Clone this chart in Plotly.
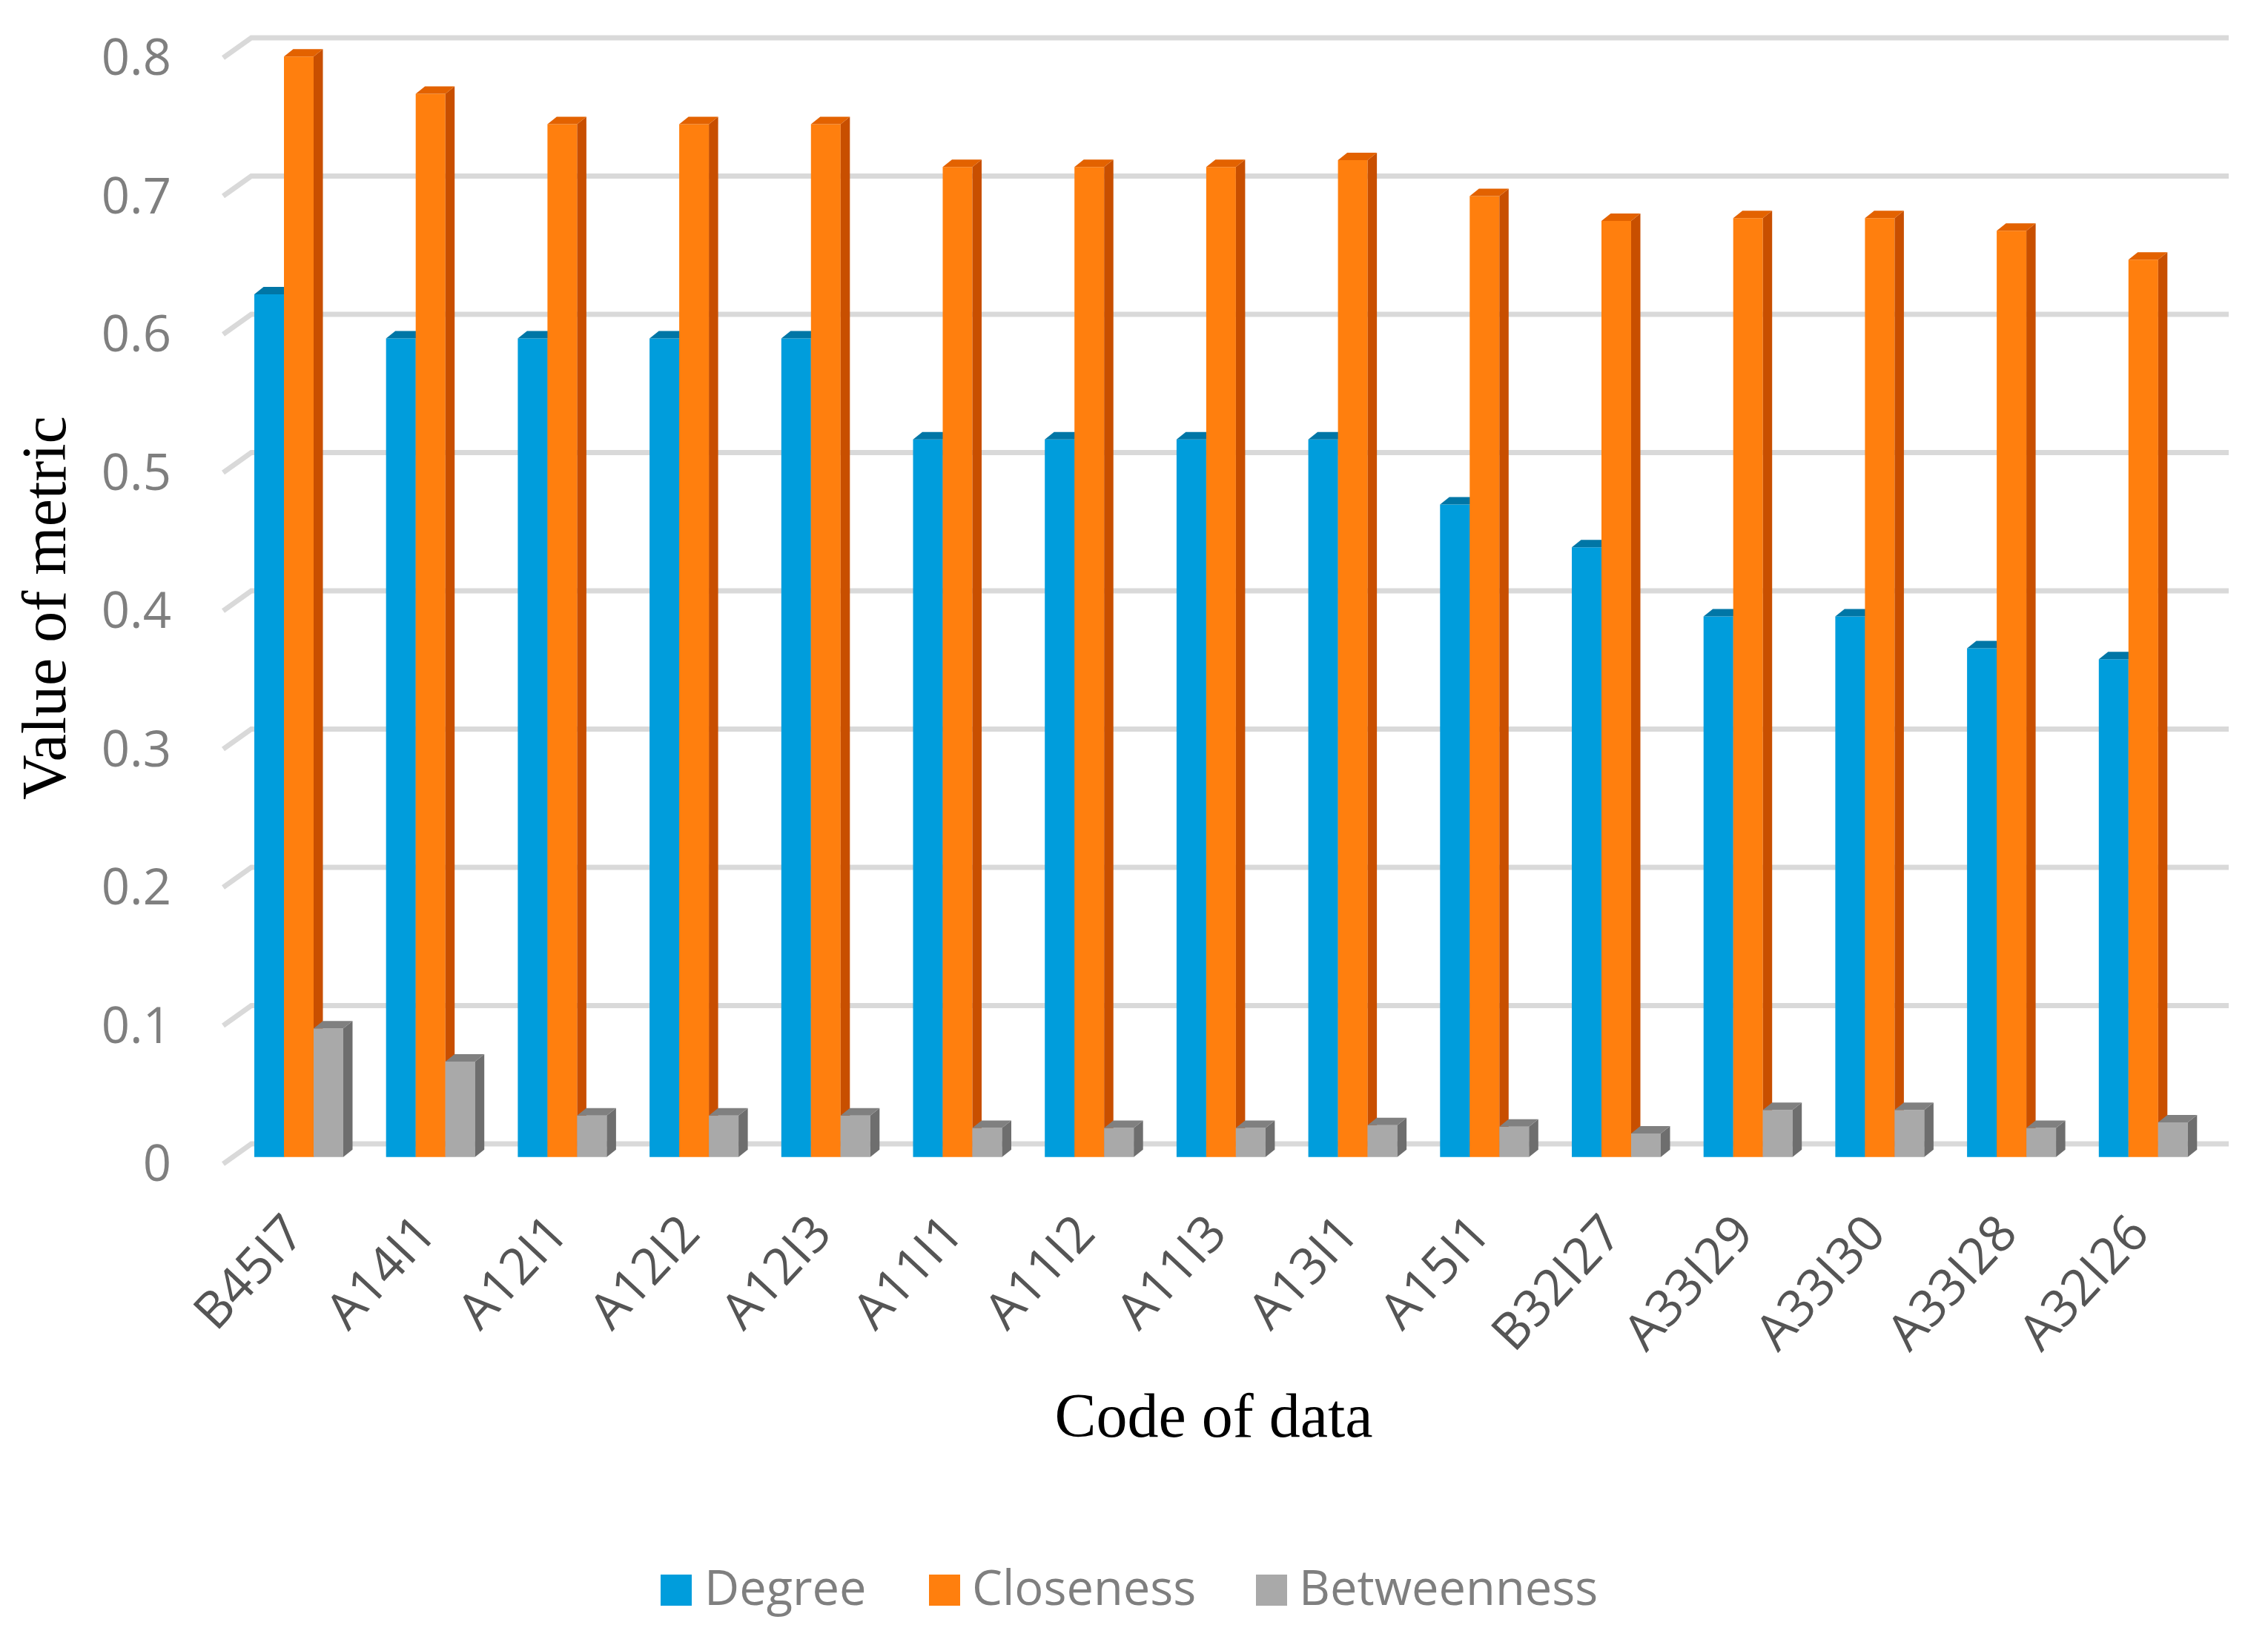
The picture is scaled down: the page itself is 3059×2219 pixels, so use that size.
import plotly.graph_objects as go

categories = ["B45I7", "A14I1", "A12I1", "A12I2", "A12I3", "A11I1", "A11I2", "A11I3",
              "A13I1", "A15I1", "B32I27", "A33I29", "A33I30", "A33I28", "A32I26"]
degree = [0.624, 0.592, 0.592, 0.592, 0.592, 0.519, 0.519, 0.519, 0.519, 0.472, 0.441, 0.391, 0.391, 0.368, 0.360]
closeness = [0.796, 0.769, 0.747, 0.747, 0.747, 0.716, 0.716, 0.716, 0.721, 0.695, 0.677, 0.679, 0.679, 0.670, 0.649]
betweenness = [0.093, 0.069, 0.030, 0.030, 0.030, 0.021, 0.021, 0.021, 0.023, 0.022, 0.017, 0.034, 0.034, 0.021, 0.025]
tick_values = [0, 0.1, 0.2, 0.3, 0.4, 0.5, 0.6, 0.7, 0.8]
tick_labels = ["0", "0.1", "0.2", "0.3", "0.4", "0.5", "0.6", "0.7", "0.8"]

W, H = 3059, 2219
PAGE = 8                              # default page margin of the written html
L, R, T, B = 245, 3029, 10, 1630      # plot rectangle, page px
Y0, Y8 = 1570, 78                     # page px of tick 0 and tick 0.8 on the front plane
X0_PX, STEP = 403, 177.7              # centre of first group, group spacing
k = (Y0 - Y8) / 0.8                   # px per unit of value
xr = [(L - X0_PX) / STEP, (R - X0_PX) / STEP]
yr = [-(B - Y0) / k, 0.8 + (Y8 - T) / k]
bar_plane = 9.3 / k                   # bars stand a little above the front plane
y2r = [yr[0] - bar_plane, yr[1] - bar_plane]

BW = 40 / STEP
DX, DY = 12.5 / STEP, 10 / k


def xd(px):
    return (px - X0_PX) / STEP


def xp(px):
    return (px - L) / (R - L)


def yp(px):
    return (B - px) / (B - T)


series = [
    ("Degree", degree, "#009DDC", "#0076A6", "#00729F", "y2", -1.5),
    ("Closeness", closeness, "#FF7F0E", "#E36200", "#C84F00", "y3", -0.5),
    ("Betweenness", betweenness, "#A9A9A9", "#808080", "#6E6E6E", "y4", 0.5),
]

fig = go.Figure()

# back-wall gridlines with the slanted stub toward the front plane
gx, gy = [], []
for v in tick_values:
    gx += [xd(301), xd(339), xd(3006), None]
    gy += [v, v + 27 / k, v + 27 / k, None]
fig.add_trace(go.Scatter(x=gx, y=gy, mode="lines", line=dict(color="#D9D9D9", width=7),
                         hoverinfo="skip", showlegend=False, yaxis="y"))

for name, vals, face, top, side, ya, off in series:
    for i, v in enumerate(vals):
        x1 = i + off * BW
        x2 = x1 + BW
        fig.add_trace(go.Scatter(x=[x2, x2 + DX, x2 + DX, x2, x2], y=[0, DY, v + DY, v, 0],
                                 mode="lines", fill="toself", fillcolor=side, line=dict(width=0, color=side),
                                 hoverinfo="skip", showlegend=False, yaxis=ya))
        fig.add_trace(go.Scatter(x=[x1, x1 + DX, x2 + DX, x2, x1], y=[v, v + DY, v + DY, v, v],
                                 mode="lines", fill="toself", fillcolor=top, line=dict(width=0, color=top),
                                 hoverinfo="skip", showlegend=False, yaxis=ya))
    fig.add_trace(go.Bar(x=list(range(len(categories))), y=vals, name=name, width=BW, offset=off * BW,
                         marker=dict(color=face, line=dict(width=0)), showlegend=False, yaxis=ya))

# legend: large square swatches with real text
legend_names = ["Degree", "Closeness", "Betweenness"]
legend_colors = ["#009DDC", "#FF7F0E", "#A9A9A9"]
legend_swatch_px = [891, 1253, 1694]
legend_text_px = [949, 1310, 1751]
shapes, annotations = [], []
for nm, col, sx, tx in zip(legend_names, legend_colors, legend_swatch_px, legend_text_px):
    shapes.append(dict(type="rect", xref="paper", yref="paper", x0=xp(sx), x1=xp(sx + 42),
                       y0=yp(2166), y1=yp(2124), fillcolor=col, line=dict(width=0)))
    annotations.append(dict(text=nm, xref="paper", yref="paper", x=xp(tx), y=yp(2140), xanchor="left",
                            yanchor="middle", showarrow=False, borderpad=0,
                            font=dict(family="Open Sans", size=65, color="#7F7F7F")))

overlay = dict(overlaying="y", range=y2r, visible=False, fixedrange=True)
fig.update_layout(
    width=W - 2 * PAGE, height=H - 2 * PAGE, autosize=False,
    margin=dict(l=L - PAGE, r=W - PAGE - R, t=T - PAGE, b=H - PAGE - B, pad=0),
    paper_bgcolor="white", plot_bgcolor="white",
    barmode="overlay",
    shapes=shapes, annotations=annotations,
    xaxis=dict(range=xr, tickmode="array", tickvals=list(range(len(categories))), ticktext=categories,
               tickangle=-47, ticks="", ticklabelstandoff=-22, ticklabelshift=-14,
               tickfont=dict(family="Open Sans", size=68, color="#555555"),
               showgrid=False, zeroline=False, showline=False,
               title=dict(text="Code of data", font=dict(family="Liberation Serif", size=84, color="black"), standoff=40)),
    yaxis=dict(range=yr, tickmode="array", tickvals=tick_values, ticktext=tick_labels,
               tickfont=dict(family="Open Sans", size=67, color="#7F7F7F"),
               showgrid=False, zeroline=False, showline=False, ticks="", ticklabelstandoff=13,
               title=dict(text="Value of metric", font=dict(family="Liberation Serif", size=84, color="black"), standoff=20)),
    yaxis2=overlay, yaxis3=overlay, yaxis4=overlay,
    showlegend=False,
)
fig.write_html("out.html")
